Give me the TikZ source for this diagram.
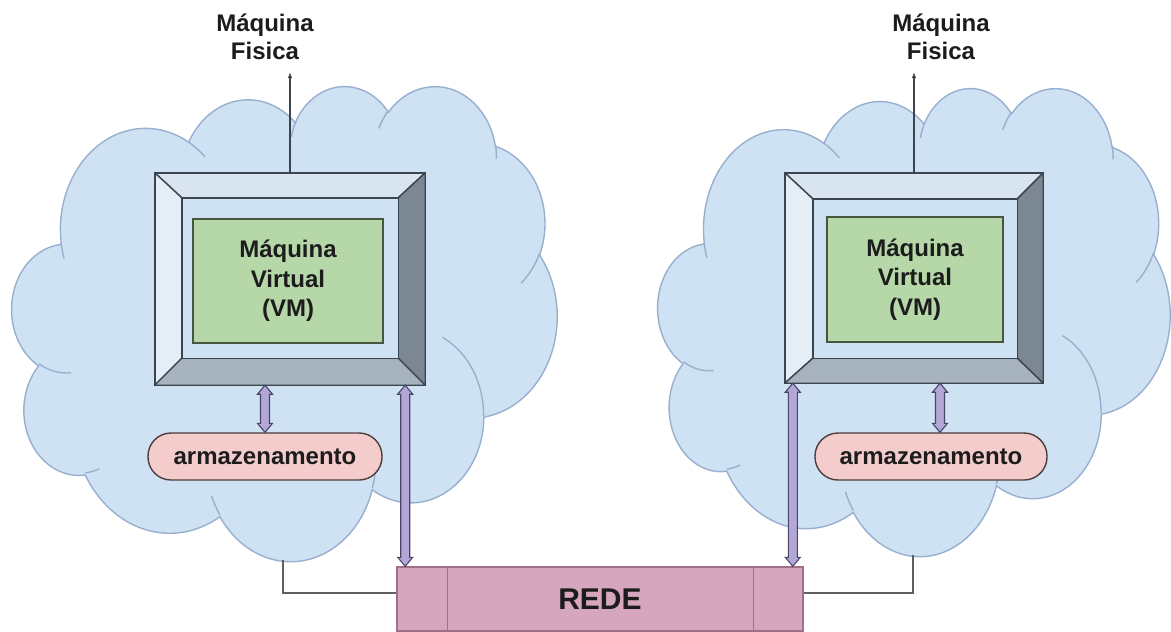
\documentclass[tikz,border=0pt]{standalone}
\usepackage{fontspec}
\setmainfont{Liberation Sans}
\usetikzlibrary{arrows.meta,calc}

\definecolor{cloudfill}{HTML}{CFE2F3}
\definecolor{cloudedge}{HTML}{98AFCF}
\definecolor{bevtop}{HTML}{D8E4F0}
\definecolor{bevleft}{HTML}{E5EDF6}
\definecolor{bevright}{HTML}{7B8793}
\definecolor{bevbottom}{HTML}{A6B3BE}
\definecolor{bevedge}{HTML}{3A4550}
\definecolor{vmfill}{HTML}{B6D7A8}
\definecolor{vmedge}{HTML}{46563F}
\definecolor{stfill}{HTML}{F4CCCC}
\definecolor{stedge}{HTML}{4D3D3D}
\definecolor{redefill}{HTML}{D5A6BD}
\definecolor{redeedge}{HTML}{A07088}
\definecolor{arrfill}{HTML}{B4A7D6}
\definecolor{arredge}{HTML}{46466A}
\definecolor{linkgray}{HTML}{5F5F5F}
\definecolor{txtdark}{HTML}{1C1C1C}

% OOXML arcTo (visual angles, y down) -> TikZ parametric angles
\newcommand\ooprep[5]{%
  \pgfmathsetmacro\ootmpa{atan2(#2*sin(#4),#3*cos(#4))}%
  \pgfmathsetmacro\ootmpb{atan2(#2*sin(#4+#5),#3*cos(#4+#5))}%
  \pgfmathsetmacro\ootmpd{\ootmpb-(\ootmpa)}%
  \pgfmathsetmacro\ootmpd{\ootmpd+360*and(#5>0,\ootmpd<0)-360*and(#5<0,\ootmpd>0)}%
  \pgfmathsetmacro\ootmps{0-(\ootmpa)}%
  \pgfmathsetmacro\ootmpe{0-(\ootmpd)}%
  \expandafter\xdef\csname oo#1s\endcsname{\ootmps}%
  \expandafter\xdef\csname oo#1d\endcsname{\ootmpe}%
}
\ooprep{A}{6.753}{9.19}{-190.487}{123.781}
\ooprep{B}{5.333}{7.267}{-144.102}{89.945}
\ooprep{C}{4.365}{5.945}{-145.808}{99.723}
\ooprep{D}{4.857}{6.595}{-130.986}{117.242}
\ooprep{E}{5.333}{7.273}{-78.709}{109.027}
\ooprep{F}{6.775}{9.22}{-46.267}{130.269}
\ooprep{G}{5.785}{7.867}{0.625}{114.033}
\ooprep{H}{6.752}{9.215}{22.452}{115.173}
\ooprep{I}{7.72}{10.543}{66.243}{75.711}
\ooprep{J}{4.36}{5.918}{-274.942}{146.736}
\ooprep{K}{4.345}{5.945}{-246.829}{152.519}
\ooprep{L}{4.345}{5.945}{86.742}{26.430}
\ooprep{M}{4.36}{5.918}{73.610}{11.447}
\ooprep{N}{6.752}{9.215}{137.624}{14.081}
\ooprep{O}{6.752}{9.215}{6.453}{15.998}
\ooprep{P}{5.785}{7.867}{-70.292}{70.917}
\ooprep{Q}{5.333}{7.273}{30.318}{27.752}
\ooprep{R}{4.857}{6.595}{-13.744}{14.859}
\ooprep{S}{4.857}{6.595}{-149.181}{18.195}
\ooprep{T}{4.365}{5.945}{-163.494}{17.686}
\ooprep{U}{6.753}{9.19}{-66.707}{12.319}
\ooprep{V}{6.753}{9.19}{157.654}{11.858}

\newcommand\drawcloud[4]{%
  \begin{scope}[shift={(#1,#2)}, xscale=#3/43.2, yscale=#4/43.2]
    \path[cloudshape] (3.9,14.37)
      arc[start angle=\ooAs, delta angle=\ooAd, x radius=6.753pt, y radius=9.19pt]
      arc[start angle=\ooBs, delta angle=\ooBd, x radius=5.333pt, y radius=7.267pt]
      arc[start angle=\ooCs, delta angle=\ooCd, x radius=4.365pt, y radius=5.945pt]
      arc[start angle=\ooDs, delta angle=\ooDd, x radius=4.857pt, y radius=6.595pt]
      arc[start angle=\ooEs, delta angle=\ooEd, x radius=5.333pt, y radius=7.273pt]
      arc[start angle=\ooFs, delta angle=\ooFd, x radius=6.775pt, y radius=9.22pt]
      arc[start angle=\ooGs, delta angle=\ooGd, x radius=5.785pt, y radius=7.867pt]
      arc[start angle=\ooHs, delta angle=\ooHd, x radius=6.752pt, y radius=9.215pt]
      arc[start angle=\ooIs, delta angle=\ooId, x radius=7.72pt, y radius=10.543pt]
      arc[start angle=\ooJs, delta angle=\ooJd, x radius=4.36pt, y radius=5.918pt]
      arc[start angle=\ooKs, delta angle=\ooKd, x radius=4.345pt, y radius=5.945pt]
      -- cycle;
    \draw[cloudinner]
      (4.693,26.177) arc[start angle=\ooLs, delta angle=\ooLd, x radius=4.345pt, y radius=5.945pt]
      (6.928,34.899) arc[start angle=\ooMs, delta angle=\ooMd, x radius=4.36pt, y radius=5.918pt]
      (16.478,39.09) arc[start angle=\ooNs, delta angle=\ooNd, x radius=6.752pt, y radius=9.215pt]
      (28.827,34.751) arc[start angle=\ooOs, delta angle=\ooOd, x radius=6.752pt, y radius=9.215pt]
      (34.129,22.954) arc[start angle=\ooPs, delta angle=\ooPd, x radius=5.785pt, y radius=7.867pt]
      (41.798,15.354) arc[start angle=\ooQs, delta angle=\ooQd, x radius=5.333pt, y radius=7.273pt]
      (38.324,5.426) arc[start angle=\ooRs, delta angle=\ooRd, x radius=4.857pt, y radius=6.595pt]
      (29.078,3.952) arc[start angle=\ooSs, delta angle=\ooSd, x radius=4.857pt, y radius=6.595pt]
      (22.141,4.72) arc[start angle=\ooTs, delta angle=\ooTd, x radius=4.365pt, y radius=5.945pt]
      (14.0,5.192) arc[start angle=\ooUs, delta angle=\ooUd, x radius=6.753pt, y radius=9.19pt]
      (4.127,15.789) arc[start angle=\ooVs, delta angle=\ooVd, x radius=6.753pt, y radius=9.19pt];
  \end{scope}}

% bevel faces of a monitor node: name, left, top, right, bottom insets
\newcommand\bevel[5]{%
  \coordinate (#1-a) at ($(#1.north west)+(#2,#3)$);
  \coordinate (#1-b) at ($(#1.north east)+(-#4,#3)$);
  \coordinate (#1-c) at ($(#1.south east)+(-#4,-#5)$);
  \coordinate (#1-d) at ($(#1.south west)+(#2,-#5)$);
  \filldraw[bevface, fill=bevtop] (#1.north west) -- (#1.north east) -- (#1-b) -- (#1-a) -- cycle;
  \filldraw[bevface, fill=bevleft] (#1.north west) -- (#1-a) -- (#1-d) -- (#1.south west) -- cycle;
  \filldraw[bevface, fill=bevright] (#1.north east) -- (#1.south east) -- (#1-c) -- (#1-b) -- cycle;
  \filldraw[bevface, fill=bevbottom] (#1.south west) -- (#1-d) -- (#1-c) -- (#1.south east) -- cycle;
  \filldraw[bevface, fill=cloudfill] (#1-a) rectangle (#1-c);
  \draw[bevface] (#1.north west) rectangle (#1.south east);}

% up-down block arrow between two named points (top, bottom)
\newcommand\udarrow[2]{%
  \filldraw[dblarrow] (#1) -- ++(7.5,9) -- ++(-3,0) -- ($(#2)+(4.5,-9)$) -- ++(3,0) -- (#2)
    -- ++(-7.5,-9) -- ++(3,0) -- ($(#1)+(-4.5,9)$) -- ++(-3,0) -- cycle;}

\begin{document}
\begin{tikzpicture}[x=1pt,y=-1pt,
  cloudshape/.style={fill=cloudfill, draw=cloudedge, line width=1.4pt, line join=round},
  cloudinner/.style={draw=cloudedge, line width=1.4pt},
  monitor/.style={draw=none, fill=none, inner sep=0pt},
  bevface/.style={draw=bevedge, line width=1.4pt, line join=round},
  vmbox/.style={fill=vmfill, draw=vmedge, line width=1.4pt, inner sep=0pt, align=center,
    text=txtdark, font=\fontsize{24}{29.5}\selectfont\bfseries},
  store/.style={fill=stfill, draw=stedge, line width=1.4pt, rounded corners=23pt,
    minimum height=47pt, inner sep=0pt, text=txtdark, font=\fontsize{24}{28}\selectfont\bfseries},
  redebox/.style={fill=redefill, draw=redeedge, line width=1.4pt, inner sep=0pt,
    text=txtdark, font=\fontsize{30}{34}\selectfont\bfseries},
  dblarrow/.style={fill=arrfill, draw=arredge, line width=1.1pt, line join=miter},
  lbl/.style={anchor=base, align=center, inner sep=0pt, text=txtdark,
    font=\fontsize{24}{27.5}\selectfont\bfseries},
  antenna/.style={draw=bevedge, line width=1.3pt, -{Latex[length=6pt,width=4.5pt]}},
  link/.style={draw=linkgray, line width=1.3pt}]

\useasboundingbox (0,0) rectangle (1171,632);

% clouds
\drawcloud{12}{85}{545}{475}
\drawcloud{658}{87}{512}{468}

% monitors
\node[monitor, minimum width=270pt, minimum height=212pt] (mon1) at (290,279) {};
\bevel{mon1}{27}{25}{27}{27}
\node[monitor, minimum width=258pt, minimum height=210pt] (mon2) at (914,278) {};
\bevel{mon2}{28}{26}{26}{25}

% virtual machines
\node[vmbox, minimum width=190pt, minimum height=124pt] (vm1) at (288,281) {Máquina\\Virtual\\(VM)};
\node[vmbox, minimum width=176pt, minimum height=125pt] (vm2) at (915,279.5) {Máquina\\Virtual\\(VM)};

% storage
\node[store, minimum width=234pt] (st1) at (265,456.5) {armazenamento};
\node[store, minimum width=232pt] (st2) at (931,456.5) {armazenamento};

% network
\node[redebox, minimum width=406pt, minimum height=64pt] (rede) at (600,599) {REDE};
\draw[draw=redeedge, line width=1.3pt] ($(rede.north west)+(51,0)$) -- ($(rede.south west)+(51,0)$);
\draw[draw=redeedge, line width=1.3pt] ($(rede.north east)+(-50,0)$) -- ($(rede.south east)+(-50,0)$);

% block arrows
\coordinate (a1t) at (st1.north |- mon1.south);
\udarrow{a1t}{st1.north}
\coordinate (n1t) at ($(mon1.south east)+(-20,0)$);
\coordinate (n1b) at (n1t |- rede.north);
\udarrow{n1t}{n1b}
\coordinate (n2t) at ($(mon2.south west)+(8,0)$);
\coordinate (n2b) at (n2t |- rede.north);
\udarrow{n2t}{n2b}
\coordinate (a2t) at ($(mon2.south)+(26,0)$);
\coordinate (a2b) at (a2t |- st2.north);
\udarrow{a2t}{a2b}

% antennas and labels
\coordinate (ant1) at (290,72);
\coordinate (ant2) at (914,72);
\draw[antenna] (mon1.north) -- (ant1);
\draw[antenna] (mon2.north) -- (ant2);
\node[lbl] (lab1) at (265,59) {Máquina\\Fisica};
\node[lbl] (lab2) at (941,59) {Máquina\\Fisica};

% cloud-to-network links
\coordinate (c1b) at (283,560);
\coordinate (c2b) at (913,555);
\draw[link] (c1b) |- ($(rede.west)+(0,-6)$);
\draw[link] (c2b) |- ($(rede.east)+(0,-6)$);
\end{tikzpicture}
\end{document}
